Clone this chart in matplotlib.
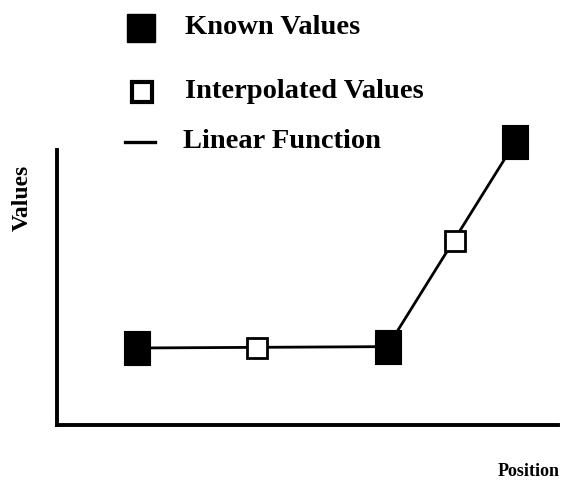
import matplotlib.pyplot as plt
from matplotlib.lines import Line2D

# data
known_x = [1.6, 6.6, 9.15]
known_y = [2.8, 2.85, 10.3]
interp_x = [4.0, 7.95]
interp_y = [2.8, 6.7]
legend_labels = ["Known Values", "Interpolated Values", "Linear Function"]

serif = "Liberation Serif"

# tall rectangle marker for the known values
rect = [(-0.37, -0.5), (0.37, -0.5), (0.37, 0.5), (-0.37, 0.5), (-0.37, -0.5)]

fig = plt.figure(figsize=(5.66, 4.83), dpi=100)
ax = fig.add_axes([57/566, 1 - 425/483, (558-57)/566, (425-150)/483])

ax.plot(known_x, known_y, color="black", lw=2, zorder=1, clip_on=False)
ax.plot(known_x, known_y, ls="none", marker=rect, ms=24.5, mfc="black",
        mec="black", mew=0.8, zorder=3, clip_on=False)
ax.plot(interp_x, interp_y, ls="none", marker="s", ms=15, mfc="white",
        mec="black", mew=2, zorder=3, clip_on=False)

ax.set_xlim(0, 10)
ax.set_ylim(0, 10)
ax.set_xticks([])
ax.set_yticks([])
for s in ["top", "right"]:
    ax.spines[s].set_visible(False)
for s in ["left", "bottom"]:
    ax.spines[s].set_linewidth(2.8)
    ax.spines[s].set_capstyle("projecting")

fig.text(22/566, 1 - 198/483, "Values", rotation=90, ha="center", va="center",
         family=serif, weight="bold", fontsize=17)
fig.text(529/566, 1 - 472/483, "Position", ha="center", va="center",
         family=serif, weight="bold", fontsize=13)

# hand-placed legend
leg_y = [28, 92, 142]
fig.add_artist(Line2D([141/566], [1 - leg_y[0]/483], marker="s", ms=19.5,
                      mfc="black", mec="black", ls="none"))
fig.add_artist(Line2D([142/566], [1 - leg_y[1]/483], marker="s", ms=15,
                      mfc="white", mec="black", mew=3, ls="none"))
fig.add_artist(Line2D([125/566, 155/566], [1 - leg_y[2]/483] * 2,
                      color="black", lw=2.4))
for lab, y, x in zip(legend_labels, leg_y, [185, 185, 183]):
    fig.text(x/566, 1 - y/483, lab, ha="left", va="center",
             family=serif, weight="bold", fontsize=20.5)

fig.savefig("out.png", dpi=100)
